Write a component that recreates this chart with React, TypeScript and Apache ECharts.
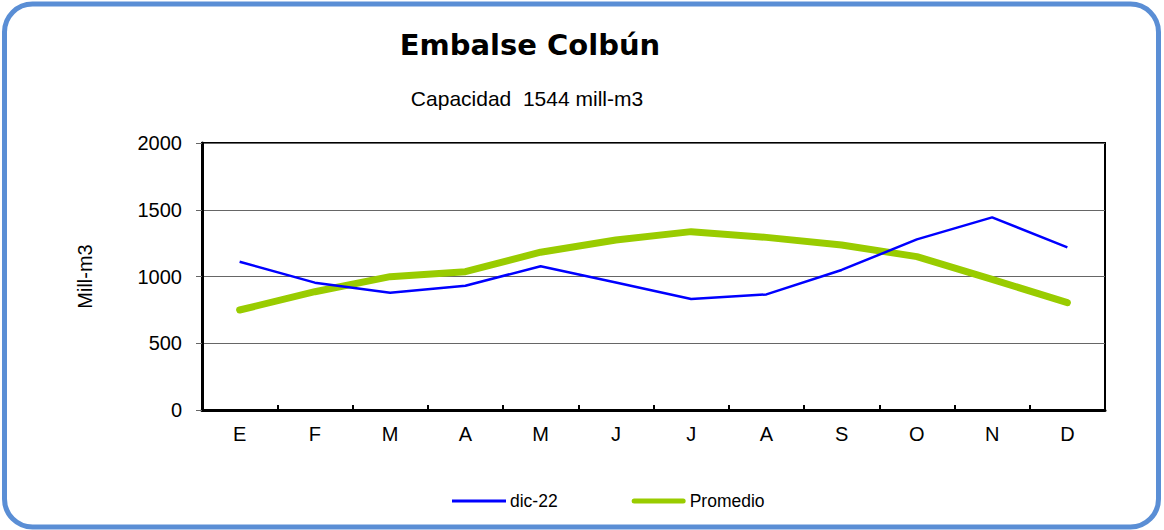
import React, { useEffect, useRef } from "react";
import * as echarts from "echarts";

// Monthly reservoir volume, mill-m3
const months = ["E", "F", "M", "A", "M", "J", "J", "A", "S", "O", "N", "D"];
const dic22 = [1111, 954, 879, 931, 1077, 955, 831, 866, 1049, 1278, 1443, 1218];
const promedio = [749, 886, 999, 1036, 1182, 1273, 1336, 1293, 1236, 1149, 979, 804];
const yTicks = { min: 0, max: 2000, interval: 500 };

const FONT = "'Liberation Sans', Arial, sans-serif";

// Legend swatches: a thin bar and a thicker rounded bar
const thinBar = "path://M0,0H54V3H0Z";
const thickBar = "path://M2.5,0H51.5A2.5,2.5 0 0 1 51.5,5H2.5A2.5,2.5 0 0 1 2.5,0Z";

export default function App() {
  const ref = useRef<HTMLDivElement>(null);

  useEffect(() => {
    if (!ref.current) return;
    const chart = echarts.init(ref.current, undefined, { renderer: "svg" });
    chart.setOption({
      animation: false,
      backgroundColor: "#fff",
      textStyle: { fontFamily: FONT },
      graphic: [
        {
          type: "rect",
          shape: { x: 4.5, y: 4, width: 1154, height: 523, r: 28 },
          style: { fill: "none", stroke: "#5A8ED5", lineWidth: 5 },
          silent: true,
        },
        {
          type: "text",
          x: 530,
          y: 45,
          style: {
            text: "Embalse Colbún",
            font: "bold 29px 'DejaVu Sans', Verdana, sans-serif",
            fill: "#000",
            align: "center",
            verticalAlign: "middle",
          },
        },
        {
          type: "text",
          x: 527,
          y: 98,
          style: {
            text: "Capacidad  1544 mill-m3",
            font: `21px ${FONT}`,
            fill: "#000",
            align: "center",
            verticalAlign: "middle",
          },
        },
      ],
      legend: {
        left: 452,
        top: 492,
        padding: 0,
        itemWidth: 54,
        itemHeight: 14,
        itemGap: 74,
        itemStyle: { borderWidth: 0 },
        textStyle: { fontFamily: FONT, fontSize: 17.5, color: "#000", padding: [0, 0, 0, -1] },
        data: [
          { name: "dic-22", icon: thinBar },
          { name: "Promedio", icon: thickBar },
        ],
      },
      grid: {
        left: 202,
        right: 59,
        top: 143,
        height: 267,
        show: true,
        borderColor: "#000",
        borderWidth: 2,
        backgroundColor: "transparent",
      },
      xAxis: {
        type: "category",
        data: months,
        boundaryGap: true,
        axisLine: { lineStyle: { color: "#000", width: 3 } },
        axisTick: { show: true, inside: true, length: 5, lineStyle: { color: "#000", width: 2 } },
        axisLabel: { color: "#000", fontSize: 20, fontFamily: FONT, margin: 14 },
        splitLine: { show: false },
      },
      yAxis: {
        type: "value",
        min: yTicks.min,
        max: yTicks.max,
        interval: yTicks.interval,
        name: "Mill-m3",
        nameLocation: "middle",
        nameRotate: 90,
        nameGap: 107,
        nameTextStyle: { color: "#000", fontSize: 20, fontFamily: FONT },
        axisLine: { show: true, lineStyle: { color: "#000", width: 3 } },
        axisTick: { show: true, length: 6, lineStyle: { color: "#666", width: 1 } },
        axisLabel: {
          color: "#000",
          fontSize: 20,
          fontFamily: FONT,
          margin: 20,
          formatter: (v: number) => String(v),
        },
        splitLine: { show: true, lineStyle: { color: "#666", width: 1 } },
      },
      series: [
        {
          name: "dic-22",
          type: "line",
          data: dic22,
          symbol: "none",
          lineStyle: { color: "#0000FF", width: 2.5 },
          itemStyle: { color: "#0000FF" },
          z: 3,
        },
        {
          name: "Promedio",
          type: "line",
          data: promedio,
          symbol: "none",
          lineStyle: { color: "#99CC00", width: 7, cap: "round", join: "round" },
          itemStyle: { color: "#99CC00" },
          z: 2,
        },
      ],
    });
    return () => chart.dispose();
  }, []);

  return (
    <div
      ref={ref}
      style={{ position: "absolute", left: 0, top: 0, width: 1164, height: 530 }}
    />
  );
}
